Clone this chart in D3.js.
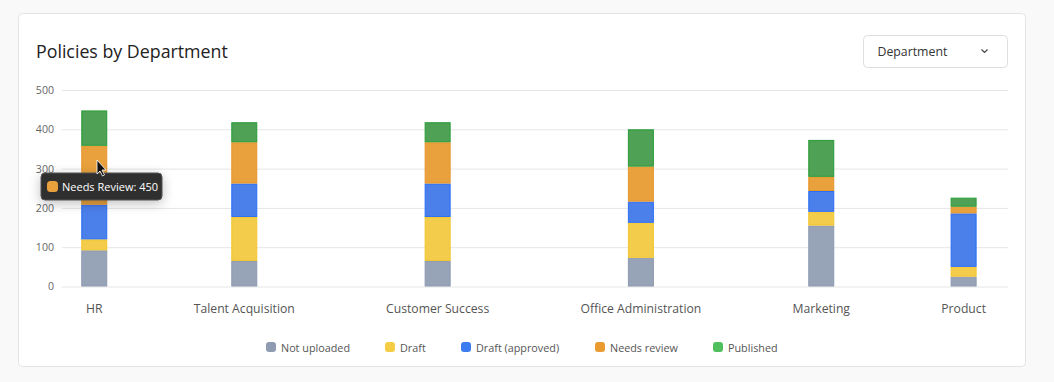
<!DOCTYPE html>
<html>
<head>
<meta charset="utf-8">
<script src="https://cdn.jsdelivr.net/npm/d3@7"></script>
<style>
  html, body { margin: 0; padding: 0; background: #f9f9f9; }
  body { width: 1054px; height: 382px; font-family: 'Open Sans', sans-serif; }
  svg { display: block; }
</style>
</head>
<body>
<svg width="1054" height="382"></svg>
<script>
const departments = ['HR', 'Talent Acquisition', 'Customer Success', 'Office Administration', 'Marketing', 'Product'];
const seriesNames = ['Not uploaded', 'Draft', 'Draft (approved)', 'Needs review', 'Published'];
const notUploaded = [92, 65, 65, 73, 155, 25];
const draft = [28, 112, 112, 89, 35, 25];
const draftApproved = [88, 85, 85, 54, 53, 136];
const needsReview = [150, 105, 105, 89, 36, 17];
const published = [90, 51, 51, 95, 94, 23];
const yTicks = [0, 100, 200, 300, 400, 500];
const tooltipLabel = 'Needs Review: 450';

const fills = ['#97a3b6', '#f2cc4a', '#4b7fea', '#e8a13d', '#4ea155'];
const strokes = ['#8d9ab0', '#f3c52e', '#2a6ef5', '#e7962a', '#279c35'];
const legendFills = ['#8f9bb0', '#f4cd44', '#3d7bf0', '#e99b2f', '#50c05e'];

const svg = d3.select('svg');

// card
svg.append('rect')
    .attr('x', 18.5).attr('y', 13.5)
    .attr('width', 1007).attr('height', 353)
    .attr('rx', 4)
    .attr('fill', '#fff')
    .attr('stroke', '#e4e4e4');

svg.append('text')
    .attr('x', 36).attr('y', 58)
    .attr('font-size', 17.8)
    .attr('fill', '#222')
    .text('Policies by Department');

// dropdown
const dd = svg.append('g').attr('transform', 'translate(863.5,35.5)');
dd.append('rect')
    .attr('width', 144).attr('height', 32).attr('rx', 4)
    .attr('fill', '#fff').attr('stroke', '#dedede');
dd.append('text')
    .attr('x', 14).attr('y', 20)
    .attr('font-size', 12.3).attr('fill', '#333')
    .text('Department');
dd.append('path')
    .attr('d', 'M118,14 L121,17 L124,14')
    .attr('fill', 'none').attr('stroke', '#444').attr('stroke-width', 1.2);

// chart
const gridLeft = 62, gridRight = 1008;
const y = d3.scaleLinear().domain([0, 500]).range([286.5, 90]);

const yAxis = svg.append('g')
    .attr('transform', `translate(${gridLeft},0)`)
    .call(d3.axisLeft(y).tickValues(yTicks).tickSize(-(gridRight - gridLeft)).tickPadding(8));
yAxis.select('.domain').remove();
yAxis.selectAll('.tick line').attr('stroke', '#e6e6e6');
yAxis.selectAll('.tick text')
    .attr('font-family', 'Open Sans').attr('font-size', 10.6).attr('fill', '#666');

// x labels laid out with equal gaps between them
const xLabels = svg.append('g').selectAll('text')
    .data(departments)
    .enter()
    .append('text')
    .attr('y', 313)
    .attr('font-size', 12.2)
    .attr('fill', '#555')
    .attr('text-anchor', 'middle')
    .text(d => d);
const widths = xLabels.nodes().map(n => n.getComputedTextLength());
const labelLeft = 86, labelRight = 986;
const gap = (labelRight - labelLeft - d3.sum(widths)) / (departments.length - 1);
const centers = [];
let cursor = labelLeft;
widths.forEach(w => { centers.push(cursor + w / 2); cursor += w + gap; });
const x = d3.scaleOrdinal().domain(departments).range(centers);
xLabels.attr('x', d => x(d));

const table = departments.map((d, i) => ({
  dept: d,
  'Not uploaded': notUploaded[i],
  'Draft': draft[i],
  'Draft (approved)': draftApproved[i],
  'Needs review': needsReview[i],
  'Published': published[i]
}));
const stacked = d3.stack().keys(seriesNames)(table);
const barWidth = 26;

svg.append('g').selectAll('g')
    .data(stacked)
    .enter()
    .append('g')
    .attr('fill', (d, i) => fills[i])
    .attr('stroke', (d, i) => strokes[i])
    .selectAll('rect')
    .data(d => d)
    .enter()
    .append('rect')
    .attr('x', d => x(d.data.dept) - barWidth / 2 + 0.5)
    .attr('y', d => y(d[1]) + 0.5)
    .attr('width', barWidth - 1)
    .attr('height', d => Math.max(0, y(d[0]) - y(d[1]) - 1))
    .attr('stroke-width', 1);

// legend
const legendX = [266, 385, 461, 595, 713];
const legend = svg.append('g').selectAll('g')
    .data(seriesNames)
    .enter()
    .append('g')
    .attr('transform', (d, i) => `translate(${legendX[i]},342)`);
legend.append('rect')
    .attr('width', 10).attr('height', 10).attr('rx', 3)
    .attr('fill', (d, i) => legendFills[i]);
legend.append('text')
    .attr('x', 15).attr('y', 9.5)
    .attr('font-size', 10.8).attr('fill', '#555')
    .text(d => d);

// tooltip
const tip = svg.append('g').attr('transform', 'translate(41,173)');
tip.append('rect')
    .attr('width', 121).attr('height', 27).attr('rx', 4)
    .attr('fill', '#2f2f2f').attr('stroke', '#555')
    .style('filter', 'drop-shadow(0 3px 6px rgba(0,0,0,0.25))');
tip.append('rect')
    .attr('x', 6).attr('y', 8).attr('width', 11).attr('height', 11).attr('rx', 3.5)
    .attr('fill', fills[3]);
tip.append('text')
    .attr('x', 21).attr('y', 17.5)
    .attr('font-size', 11).attr('fill', '#fff')
    .text(tooltipLabel);

// cursor arrow
svg.append('path')
    .attr('d', 'M97,160 L97,174 L100,171 L102.5,176 L104.5,175 L102,170 L106,170 Z')
    .attr('fill', '#111').attr('stroke', '#fff').attr('stroke-width', 0.8);
</script>
</body>
</html>
